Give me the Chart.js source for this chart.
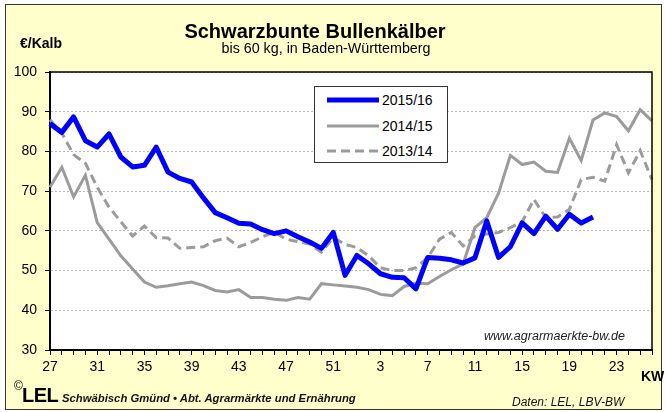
<!DOCTYPE html>
<html><head><meta charset="utf-8">
<script src="https://cdn.jsdelivr.net/npm/chart.js@4.4.1/dist/chart.umd.min.js"></script>
<style>
body{margin:0;background:#fff;}
#wrap{position:relative;width:666px;height:412px;overflow:hidden;font-family:'Liberation Sans',Arial,sans-serif;}
#frame{position:absolute;left:5px;top:4px;width:657px;height:406px;box-sizing:border-box;border:1px solid #333;background:#FFFFCC;}
#c{position:absolute;left:0;top:0;}
.t{position:absolute;white-space:nowrap;color:#000;}
#legend{position:absolute;left:314px;top:86px;width:134px;height:77px;box-sizing:border-box;border:1px solid #333;background:#fff;}
.row{position:absolute;left:0;width:134px;height:16px;}
.row svg{position:absolute;left:12px;top:2px;}
.row span{position:absolute;left:67px;top:0;font-size:14px;line-height:16px;}
</style></head><body>
<div id="wrap">
<div id="frame"></div>
<canvas id="c" width="666" height="412"></canvas>
<div class="t" style="left:0;width:630px;text-align:center;top:21px;font-size:20px;line-height:20px;font-weight:bold;">Schwarzbunte Bullenkälber</div>
<div class="t" style="left:0;width:652px;text-align:center;top:40px;font-size:14.3px;line-height:16px;">bis 60 kg, in Baden-Württemberg</div>
<div class="t" style="left:20px;top:35px;font-size:14px;line-height:16px;font-weight:bold;">€/Kalb</div>
<div class="t" style="left:641px;top:368px;font-size:14px;line-height:16px;font-weight:bold;">KW</div>
<div class="t" style="left:484px;top:328px;font-size:12.5px;line-height:16px;font-style:italic;color:#222;">www.agrarmaerkte-bw.de</div>
<div class="t" style="left:14px;top:380px;font-size:12px;line-height:12px;">©</div>
<div class="t" style="left:22px;top:385px;font-size:20px;line-height:20px;font-weight:bold;letter-spacing:-0.5px;">LEL</div>
<div class="t" style="left:62px;top:392px;font-size:11.3px;line-height:13px;font-weight:bold;font-style:italic;color:#111;">Schwäbisch Gmünd • Abt. Agrarmärkte und Ernährung</div>
<div class="t" style="left:512px;top:395px;font-size:12px;line-height:15px;font-style:italic;color:#111;">Daten: LEL, LBV-BW</div>
<div id="legend"></div>
</div>
<script>
// Kalenderwochen (KW 27 .. 52, 1 .. 26)
const weeks = [27,28,29,30,31,32,33,34,35,36,37,38,39,40,41,42,43,44,45,46,47,48,49,50,51,52,
               1,2,3,4,5,6,7,8,9,10,11,12,13,14,15,16,17,18,19,20,21,22,23,24,25,26];
const seriesNames = ['2015/16','2014/15','2013/14'];
// €/Kalb
const s2015 = [87,84.8,88.7,82.7,81.1,84.4,78.6,76.1,76.5,81.1,74.8,73.2,72.3,68.3,64.6,63.3,61.9,61.7,60.3,59.3,60,58.5,57.2,55.6,59.6,48.8,
               53.8,51.7,49.2,48.3,48.2,45.4,53.3,53.1,52.7,51.9,53.2,62.5,53.3,56,62,59.3,63.7,60.4,64.2,62,63.5];
const s2014 = [71,76,68.6,74,62.1,57.9,53.7,50.4,47.1,45.8,46.2,46.7,47.1,46.2,45,44.6,45.2,43.2,43.2,42.8,42.5,43.2,42.8,46.7,46.4,46.1,
               45.8,45.2,44,43.7,46,46.8,46.7,48.5,50.2,51.7,60.8,63.3,69.5,79,76.7,77.3,75,74.7,83.3,77.7,87.9,89.7,88.8,85.2,90.5,87.7];
const s2013 = [88,84.6,79.2,77,71,66,62.3,58.7,61.2,58.3,58.2,55.6,55.8,56,57.5,58.2,56,57.1,58.5,59.7,57.9,57.3,56.7,54.6,58.3,56.6,
               55.8,53.7,50.7,50,50,50.7,53.3,57.9,59.6,56.2,58.7,59.2,59.6,60.8,62.3,67.9,63.3,63.5,65.4,72.9,73.5,72.5,81.7,74.6,80.2,72.9];
const yTicks = [30,40,50,60,70,80,90,100];

const FONT = "'Liberation Sans', Arial, sans-serif";
const styles = [
  {color:'#0000FF', width:5, dash:[]},
  {color:'#9B9B9B', width:3, dash:[]},
  {color:'#9B9B9B', width:3, dash:[9,5]}
];
const seriesData = [s2015, s2014, s2013];

// HTML legend
const lg = document.getElementById('legend');
seriesNames.forEach((n,i)=>{
  const st = styles[i];
  const r = document.createElement('div');
  r.className='row';
  r.style.top = (5 + i*25.5) + 'px';
  r.innerHTML = '<svg width="52" height="12"><line x1="0" y1="6" x2="52" y2="6" stroke="'+st.color+'" stroke-width="'+st.width+'"'+
    (st.dash.length? ' stroke-dasharray="'+st.dash.join(',')+'"':'')+' stroke-linecap="'+(i===0?'round':'butt')+'"/></svg><span>'+n+'</span>';
  lg.appendChild(r);
});

const areaPlugin = {
  id:'area',
  beforeDraw(chart){
    const {ctx, chartArea:a} = chart;
    ctx.save(); ctx.fillStyle='#fff';
    ctx.fillRect(a.left,a.top,a.right-a.left,a.bottom-a.top); ctx.restore();
  },
  afterDraw(chart){
    const {ctx, chartArea:a} = chart;
    ctx.save(); ctx.strokeStyle='#000'; ctx.lineWidth=1.5;
    ctx.beginPath(); ctx.moveTo(a.left,a.top); ctx.lineTo(a.right,a.top); ctx.lineTo(a.right,a.bottom); ctx.stroke();
    ctx.restore();
  }
};

new Chart(document.getElementById('c'), {
  type:'line',
  data:{
    labels: weeks.map(String),
    datasets: seriesNames.map((n,i)=>({
      label:n, data:seriesData[i],
      borderColor:styles[i].color, borderWidth:styles[i].width, borderDash:styles[i].dash,
      borderJoinStyle: i===0?'round':'miter', borderCapStyle:'butt',
      pointRadius:0, tension:0, fill:false
    }))
  },
  options:{
    responsive:false, animation:false, devicePixelRatio:1,
    layout:{padding:{left:5, top:72, right:14, bottom:32}},
    plugins:{legend:{display:false}, tooltip:{enabled:false}, title:{display:false}},
    scales:{
      x:{
        grid:{drawOnChartArea:false, drawTicks:true, tickLength:5, tickColor:'#000', tickWidth:1},
        border:{color:'#000', width:2},
        ticks:{autoSkip:false, maxRotation:0, minRotation:0, padding:4, color:'#000', font:{size:14, family:FONT},
               callback:(v,i)=> i%4===0 ? String(weeks[i]) : ''},
        afterFit:s=>{s.height=30;}
      },
      y:{
        min:30, max:100,
        afterBuildTicks:s=>{s.ticks = yTicks.map(v=>({value:v}));},
        ticks:{padding:8, color:'#000', font:{size:14, family:FONT}},
        grid:{color:'#B8B8B8', lineWidth:1, tickColor:'#000', tickLength:5, tickWidth:1, tickBorderDash:[]},
        border:{color:'#000', width:2, dash:[2,2]},
        afterFit:s=>{s.width=45;}
      }
    }
  },
  plugins:[areaPlugin]
});
</script>
</body></html>
